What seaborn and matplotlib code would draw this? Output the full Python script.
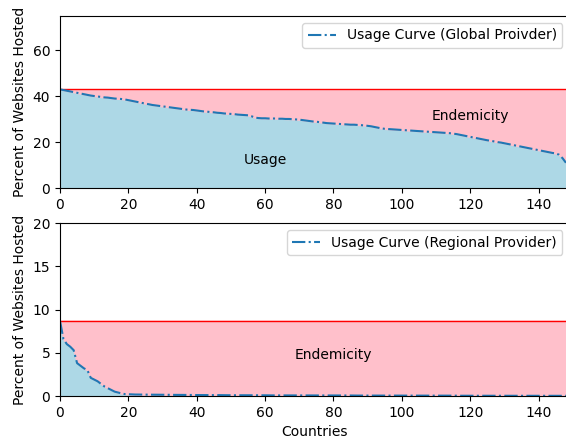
import numpy as np
import pandas as pd
import matplotlib
matplotlib.use("Agg")
import matplotlib.pyplot as plt
import seaborn as sns

# share of websites hosted per country, sorted, global provider
global_usage = [
    43.0, 42.7, 42.4, 42.1, 41.8, 41.5, 41.2, 40.9, 40.6, 40.3,
    40.1, 39.9, 39.7, 39.5, 39.4, 39.2, 39.0, 38.9, 38.8, 38.6,
    38.3, 38.0, 37.7, 37.4, 37.1, 36.8, 36.5, 36.2, 36.0, 35.8,
    35.6, 35.4, 35.2, 35.0, 34.8, 34.6, 34.4, 34.2, 34.1, 34.0,
    33.8, 33.6, 33.4, 33.3, 33.1, 33.0, 32.8, 32.7, 32.5, 32.4,
    32.3, 32.2, 32.0, 31.9, 31.8, 31.7, 31.3, 30.7, 30.5, 30.4,
    30.4, 30.3, 30.3, 30.3, 30.2, 30.2, 30.1, 30.1, 30.0, 29.9,
    29.8, 29.6, 29.4, 29.2, 29.0, 28.9, 28.7, 28.5, 28.3, 28.2,
    28.1, 28.0, 27.9, 27.8, 27.7, 27.6, 27.6, 27.5, 27.4, 27.3,
    27.1, 26.9, 26.6, 26.3, 26.0, 25.8, 25.7, 25.6, 25.5, 25.4,
    25.3, 25.2, 25.1, 25.0, 24.9, 24.8, 24.7, 24.6, 24.5, 24.4,
    24.3, 24.2, 24.1, 24.0, 23.9, 23.7, 23.5, 23.2, 22.9, 22.6,
    22.3, 22.0, 21.7, 21.4, 21.1, 20.8, 20.6, 20.3, 20.0, 19.8,
    19.5, 19.2, 18.9, 18.6, 18.3, 18.0, 17.7, 17.4, 17.1, 16.8,
    16.5, 16.2, 15.9, 15.6, 15.3, 15.1, 14.5, 13.0, 11.0,
]

# regional provider
regional_usage = [
    8.7, 6.6, 6.0, 5.7, 5.3, 3.8, 3.5, 3.2, 3.0, 2.1,
    1.9, 1.7, 1.4, 1.1, 0.9, 0.7, 0.5, 0.4, 0.3, 0.22,
    0.20, 0.18, 0.17, 0.17, 0.16, 0.16, 0.15, 0.15, 0.15, 0.14,
    0.14, 0.14, 0.13, 0.13, 0.13, 0.12, 0.12, 0.12, 0.12, 0.11,
    0.11, 0.11, 0.11, 0.10, 0.10, 0.10, 0.10, 0.10, 0.09, 0.09,
    0.09, 0.09, 0.09, 0.09, 0.08, 0.08, 0.08, 0.08, 0.08, 0.08,
    0.08, 0.07, 0.07, 0.07, 0.07, 0.07, 0.07, 0.07, 0.07, 0.07,
    0.07, 0.07, 0.07, 0.07, 0.06, 0.06, 0.06, 0.06, 0.06, 0.06,
    0.06, 0.06, 0.06, 0.06, 0.06, 0.06, 0.05, 0.05, 0.05, 0.05,
    0.05, 0.05, 0.05, 0.05, 0.05, 0.05, 0.05, 0.05, 0.05, 0.05,
    0.04, 0.04, 0.04, 0.04, 0.04, 0.04, 0.04, 0.04, 0.04, 0.04,
    0.04, 0.04, 0.04, 0.04, 0.04, 0.04, 0.03, 0.03, 0.03, 0.03,
    0.03, 0.03, 0.03, 0.03, 0.03, 0.03, 0.03, 0.03, 0.03, 0.03,
    0.03, 0.03, 0.03, 0.02, 0.02, 0.02, 0.02, 0.02, 0.02, 0.02,
    0.02, 0.02, 0.02, 0.02, 0.02, 0.02, 0.02, 0.02, 0.02,
]

global_max = 43.0
regional_max = 8.7
countries = np.arange(len(global_usage))

df = pd.DataFrame({
    "country": countries,
    "global": global_usage,
    "regional": regional_usage,
})

fig = plt.figure(figsize=(5.66, 4.4), dpi=100)
ax1 = fig.add_axes([0.106, 0.5727, 0.9, 0.391])
ax2 = fig.add_axes([0.106, 0.1, 0.9, 0.393])

# Глобальный провайдер
ax1.fill_between(df["country"], df["global"], color="lightblue")
ax1.fill_between(df["country"], df["global"], global_max, color="pink")
ax1.axhline(global_max, color="red", lw=1)
sns.lineplot(data=df, x="country", y="global", ax=ax1, color="#1f77b4",
             linestyle="-.", lw=1.5, label="Usage Curve (Global Proivder)")
ax1.text(60, 12, "Usage", ha="center", va="center", fontsize=10)
ax1.text(120, 31.5, "Endemicity", ha="center", va="center", fontsize=10)
ax1.set_xlim(0, 149)
ax1.set_ylim(0, 75)
ax1.set_yticks([0, 20, 40, 60])
ax1.set_xticks(range(0, 141, 20))
ax1.set_xlabel("")
ax1.set_ylabel("Percent of Websites Hosted")
ax1.legend(loc="upper right")

# Региональный провайдер
ax2.fill_between(df["country"], df["regional"], color="lightblue")
ax2.fill_between(df["country"], df["regional"], regional_max, color="pink")
ax2.axhline(regional_max, color="red", lw=1)
sns.lineplot(data=df, x="country", y="regional", ax=ax2, color="#1f77b4",
             linestyle="-.", lw=1.5, label="Usage Curve (Regional Provider)")
ax2.text(80, 4.7, "Endemicity", ha="center", va="center", fontsize=10)
ax2.set_xlim(0, 149)
ax2.set_ylim(0, 20)
ax2.set_yticks([0, 5, 10, 15, 20])
ax2.set_xticks(range(0, 141, 20))
ax2.set_xlabel("Countries")
ax2.set_ylabel("Percent of Websites Hosted")
ax2.legend(loc="upper right")

fig.savefig("out.png", dpi=100)
